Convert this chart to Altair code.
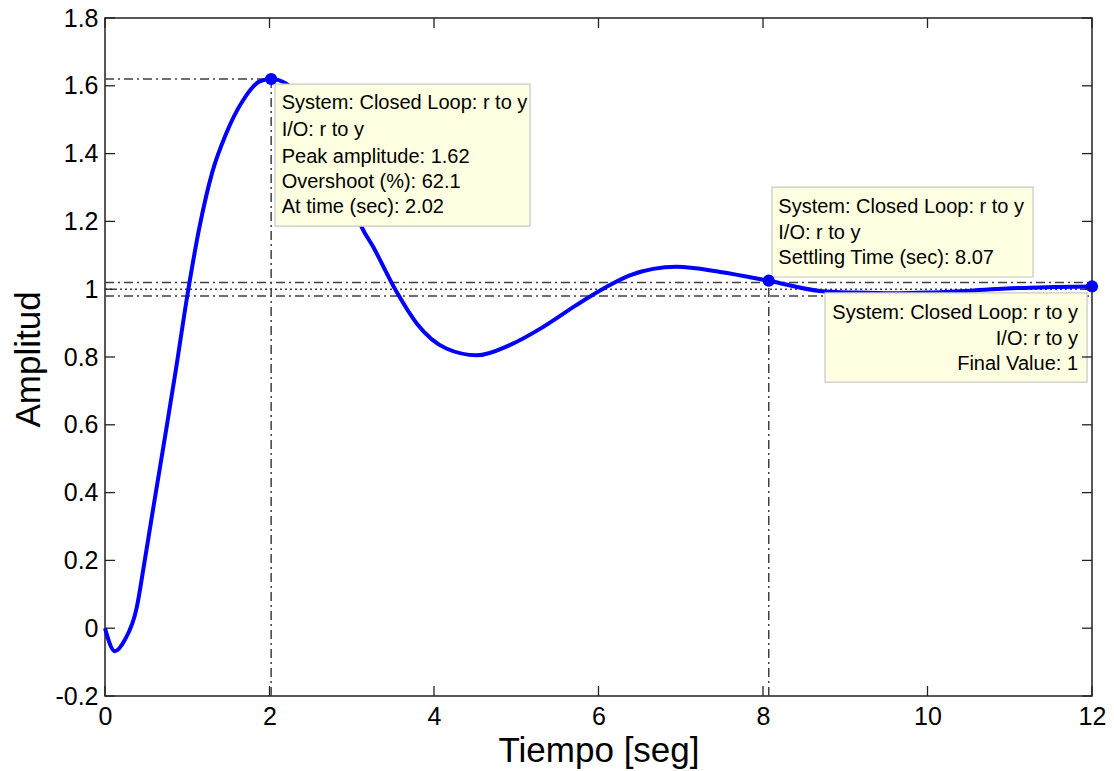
import altair as alt
import pandas as pd

# ---- data ----
time = [0, 0.12, 0.24, 0.385, 0.47, 0.577, 0.74, 0.86, 1.0, 1.146, 1.309, 1.471,
        1.675, 1.88, 2.02, 2.2, 2.4, 2.6, 2.8, 3.0, 3.12, 3.26, 3.55, 3.79, 4.15,
        4.52, 4.92, 5.33, 5.73, 6.1, 6.38, 6.95, 7.48, 8.07, 8.69, 9.14, 9.6, 10.0,
        10.47, 10.96, 11.45, 12.0]
amplitude = [0, -0.068, -0.035, 0.06, 0.18, 0.34, 0.58, 0.76, 0.98, 1.18, 1.349,
             1.458, 1.556, 1.613, 1.62, 1.607, 1.56, 1.48, 1.38, 1.26, 1.184, 1.125,
             0.99, 0.899, 0.825, 0.805, 0.835, 0.889, 0.953, 1.007, 1.041, 1.066,
             1.051, 1.025, 0.995, 0.99, 0.988, 0.99, 0.995, 1.002, 1.006, 1.008]

marker_t = [2.02, 8.07, 12.0]
marker_v = [1.62, 1.025, 1.008]

x_ticks = [0, 2, 4, 6, 8, 10, 12]
y_ticks = [-0.2, 0, 0.2, 0.4, 0.6, 0.8, 1.0, 1.2, 1.4, 1.6, 1.8]

# reference rules: x, x2, y, y2
dashdot_x = [0, 2.02, 8.07, 0, 0]
dashdot_x2 = [2.02, 2.02, 8.07, 12, 12]
dashdot_y = [1.62, -0.2, -0.2, 1.02, 0.98]
dashdot_y2 = [1.62, 1.62, 1.025, 1.02, 0.98]
dotted_y = [1.0]

# annotation boxes (data coordinates): t0, t1, v_top, v_bottom
box_t0 = [2.067, 8.11, 8.754]
box_t1 = [5.167, 11.283, 11.94]
box_vtop = [1.605, 1.301, 0.989]
box_vbot = [1.186, 1.036, 0.726]

box1_lines = ["System: Closed Loop: r to y", "I/O: r to y", "Peak amplitude: 1.62",
              "Overshoot (%): 62.1", "At time (sec): 2.02"]
box1_v = [1.548, 1.470, 1.391, 1.317, 1.243]
box1_t = 2.148

box2_lines = ["System: Closed Loop: r to y", "I/O: r to y", "Settling Time (sec): 8.07"]
box2_v = [1.243, 1.165, 1.091]
box2_t = 8.186

box3_lines = ["System: Closed Loop: r to y", "I/O: r to y", "Final Value: 1"]
box3_v = [0.929, 0.852, 0.778]
box3_t = 11.83

FONT = "Liberation Sans"
W, H = 987, 678

curve_df = pd.DataFrame({"t": time, "v": amplitude})
marker_df = pd.DataFrame({"t": marker_t, "v": marker_v})
dd_df = pd.DataFrame({"t": dashdot_x, "t2": dashdot_x2, "v": dashdot_y, "v2": dashdot_y2})
dot_df = pd.DataFrame({"v": dotted_y})
box_df = pd.DataFrame({"t": box_t0, "t2": box_t1, "v": box_vtop, "v2": box_vbot})
txt1 = pd.DataFrame({"t": [box1_t] * len(box1_lines), "v": box1_v, "s": box1_lines})
txt2 = pd.DataFrame({"t": [box2_t] * len(box2_lines), "v": box2_v, "s": box2_lines})
txt3 = pd.DataFrame({"t": [box3_t] * len(box3_lines), "v": box3_v, "s": box3_lines})
xt_df = pd.DataFrame({"t": x_ticks})
yt_df = pd.DataFrame({"v": y_ticks})

xs = alt.Scale(domain=[0, 12], nice=False, zero=False)
ys = alt.Scale(domain=[-0.2, 1.8], nice=False, zero=False)

label_expr = "toString(round(datum.value*10)/10)"

x_axis = alt.Axis(values=x_ticks, ticks=False, domain=False, grid=False,
                  labelFont=FONT, labelFontSize=25, labelColor="black",
                  labelPadding=28, labelBaseline="alphabetic", labelExpr=label_expr,
                  labelFlush=False, labelOverlap=False,
                  title="Tiempo [seg]", titleFont=FONT, titleFontSize=35,
                  titleFontWeight="normal", titleColor="black",
                  titleX=W / 2, titleY=65, titleBaseline="alphabetic", titleAlign="center")
y_axis = alt.Axis(values=y_ticks, ticks=False, domain=False, grid=False,
                  labelFont=FONT, labelFontSize=25, labelColor="black",
                  labelPadding=7, labelExpr=label_expr,
                  labelFlush=False, labelOverlap=False,
                  title="Amplitud", titleFont=FONT, titleFontSize=35,
                  titleFontWeight="normal", titleColor="black",
                  titleX=-66, titleY=341, titleAngle=270,
                  titleBaseline="alphabetic", titleAlign="center")


def X(field="t"):
    return alt.X(f"{field}:Q", scale=xs, axis=x_axis, title="Tiempo [seg]")


def Y(field="v"):
    return alt.Y(f"{field}:Q", scale=ys, axis=y_axis, title="Amplitud")


curve = alt.Chart(curve_df).mark_line(color="#0000FF", strokeWidth=4,
                                      interpolate="monotone").encode(x=X(), y=Y())

dashdot = alt.Chart(dd_df).mark_rule(color="#404040", strokeWidth=1.5,
                                     strokeDash=[9, 4, 2, 4]).encode(
    x=X(), x2="t2:Q", y=Y(), y2="v2:Q")

dotted = alt.Chart(dot_df).mark_rule(color="#404040", strokeWidth=1.5,
                                     strokeDash=[2, 3]).encode(
    y=Y(), x=alt.value(0), x2=alt.value(W))

# inward ticks on all four sides
tick_len = 10
tick_style = dict(color="#222222", strokeWidth=1.3)
xt_bottom = alt.Chart(xt_df).mark_rule(**tick_style).encode(
    x=X(), y=alt.value(H - tick_len), y2=alt.value(H))
xt_top = alt.Chart(xt_df).mark_rule(**tick_style).encode(
    x=X(), y=alt.value(0), y2=alt.value(tick_len))
yt_left = alt.Chart(yt_df).mark_rule(**tick_style).encode(
    y=Y(), x=alt.value(0), x2=alt.value(tick_len))
yt_right = alt.Chart(yt_df).mark_rule(**tick_style).encode(
    y=Y(), x=alt.value(W - tick_len), x2=alt.value(W))

boxes = alt.Chart(box_df).mark_rect(fill="#FFFFE1", stroke="#C8C8C8", strokeWidth=1.2).encode(
    x=X(), x2="t2:Q", y=Y(), y2="v2:Q")


def text_layer(df, align):
    return alt.Chart(df).mark_text(font=FONT, fontSize=20, color="black",
                                   align=align, baseline="middle").encode(
        x=X(), y=Y(), text="s:N")


markers = alt.Chart(marker_df).mark_circle(color="#0000FF", opacity=1, size=150).encode(
    x=X(), y=Y())

chart = alt.layer(
    dashdot, dotted, curve, boxes,
    text_layer(txt1, "left"), text_layer(txt2, "left"), text_layer(txt3, "right"),
    markers, xt_bottom, xt_top, yt_left, yt_right,
).properties(
    width=W, height=H,
    autosize=alt.AutoSizeParams(type="none"),
    padding={"left": 105, "top": 18, "right": 22, "bottom": 75},
    background="white",
).configure_view(stroke="#222222", strokeWidth=1.5)

chart.save("out.html", embed_options={"renderer": "svg", "actions": False})
